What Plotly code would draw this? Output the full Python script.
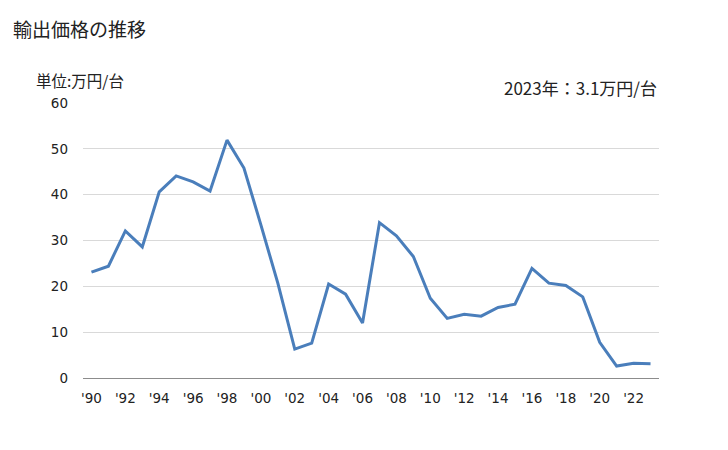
import plotly.graph_objects as go

years = list(range(1990, 2024))
values = [23.1, 24.4, 32.1, 28.6, 40.6, 44.1, 42.8, 40.8, 51.9, 45.8,
          33.4, 20.7, 6.3, 7.6, 20.5, 18.3, 12.0, 33.9, 31.0, 26.5,
          17.4, 13.0, 13.9, 13.5, 15.4, 16.1, 23.9, 20.7, 20.2, 17.7,
          7.8, 2.6, 3.2, 3.1]
tick_years = list(range(1990, 2024, 2))
tick_labels = ["'" + str(y)[2:] for y in tick_years]
y_ticks = [0, 10, 20, 30, 40, 50, 60]

title_text = "輸出価格の推移"
unit_text = "単位:万円/台"
latest_text = "2023年：3.1万円/台"

fig = go.Figure()
fig.add_trace(go.Scatter(
    x=years, y=values, mode="lines",
    line=dict(color="#4a7ebb", width=3),
    hoverinfo="x+y",
))

font_num = "DejaVu Sans"
font_jp = "Noto Sans CJK JP"

fig.update_layout(
    width=728, height=450,
    margin=dict(l=83, r=69, t=103, b=72),
    paper_bgcolor="white", plot_bgcolor="white",
    showlegend=False,
    xaxis=dict(
        range=[1989.5, 2023.5],
        tickmode="array", tickvals=tick_years, ticktext=tick_labels,
        showgrid=False, zeroline=False,
        showline=False, ticks="",
        ticklabelstandoff=10,
        tickfont=dict(family=font_num, size=13.5, color="#222222"),
        fixedrange=True,
    ),
    yaxis=dict(
        range=[0, 60],
        tickmode="array", tickvals=y_ticks,
        showgrid=True, gridcolor="#d9d9d9", gridwidth=1,
        zeroline=True, zerolinecolor="#8c8c8c", zerolinewidth=1,
        showline=False, ticks="",
        ticklabelstandoff=14,
        tickfont=dict(family=font_num, size=13.5, color="#222222"),
        fixedrange=True,
    ),
)

W, H = 728, 450
l, r, t, b = 83, 69, 103, 72
pw, ph = W - l - r, H - t - b

def px(x):
    return (x - l) / pw

def py(y):
    return (H - b - y) / ph

fig.add_annotation(text=title_text, x=px(11), y=py(28), xref="paper", yref="paper",
                   xanchor="left", yanchor="middle", showarrow=False,
                   font=dict(family=font_jp, size=19, color="#222222"))
fig.add_annotation(text=unit_text, x=px(34), y=py(80), xref="paper", yref="paper",
                   xanchor="left", yanchor="middle", showarrow=False,
                   font=dict(family=font_jp, size=15.5, color="#222222"))
fig.add_annotation(text=latest_text, x=px(659), y=py(87), xref="paper", yref="paper",
                   xanchor="right", yanchor="middle", showarrow=False,
                   font=dict(family=font_jp, size=17, color="#222222"))

fig.write_html("out.html")
